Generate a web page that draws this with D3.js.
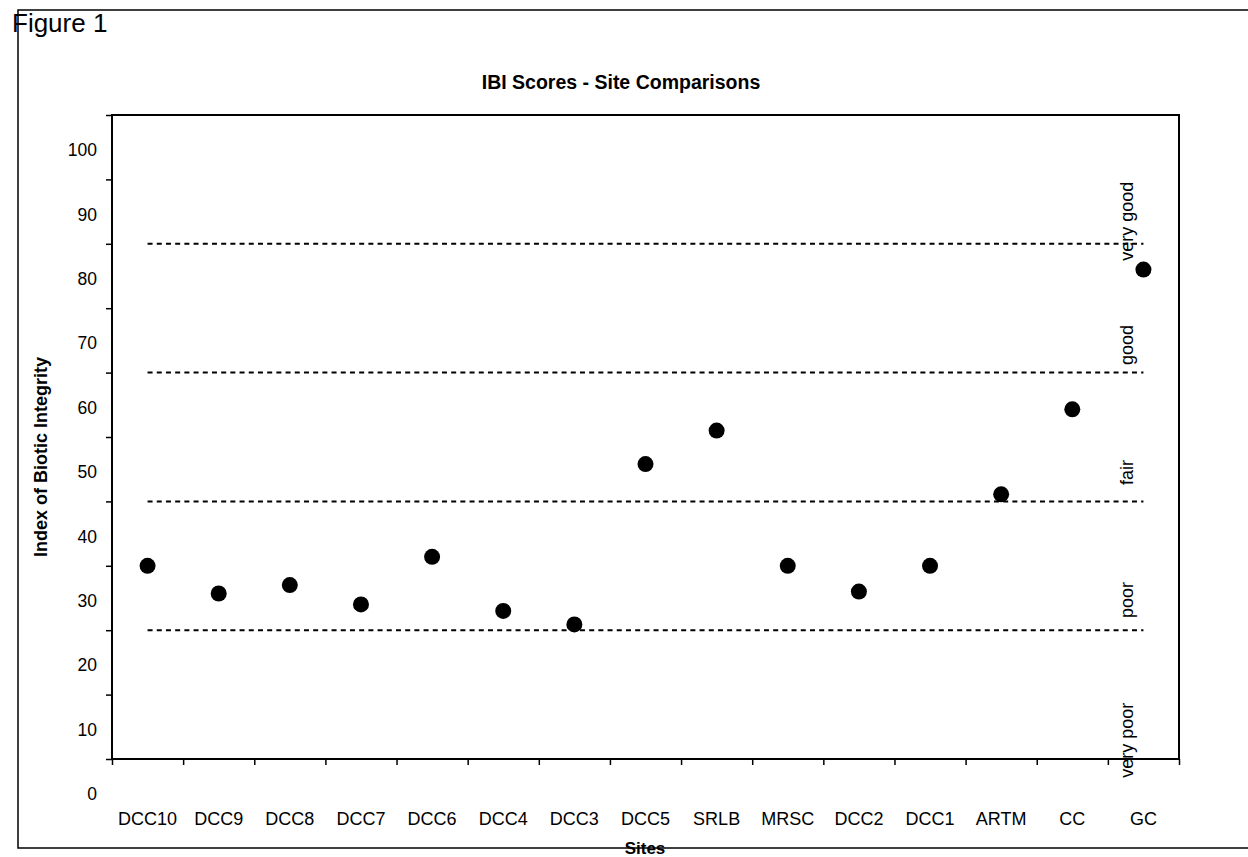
<!DOCTYPE html>
<html>
<head>
<meta charset="utf-8">
<script src="https://cdn.jsdelivr.net/npm/d3@7"></script>
<style>
  html, body { margin: 0; padding: 0; background: #fff; }
  svg { display: block; font-family: "Liberation Sans", Arial, sans-serif; }
</style>
</head>
<body>
<svg id="chart" width="1248" height="857"></svg>
<script>
// ---- data ----
const sites = ["DCC10","DCC9","DCC8","DCC7","DCC6","DCC4","DCC3","DCC5","SRLB","MRSC","DCC2","DCC1","ARTM","CC","GC"];
const ibiScores = [35, 30.7, 32, 29, 36.4, 28, 25.9, 50.8, 56, 35, 31, 35, 46.1, 59.3, 81];
const thresholds = [85, 65, 45, 25];
const bandNames = ["very good", "good", "fair", "poor", "very poor"];
const bandLabelValues = [88.5, 69.3, 49.5, 29.7, 7.9];
const yTickMarks = [5, 15, 25, 35, 45, 55, 65, 75, 85, 95, 105];
const yTickLabels = [0, 10, 20, 30, 40, 50, 60, 70, 80, 90, 100];

// ---- layout ----
const svg = d3.select("#chart");
const plot = { left: 112, right: 1179, top: 115, bottom: 759 };

const x = d3.scaleBand().domain(sites).range([plot.left, plot.right]).padding(0);
const xEdge = d3.scaleLinear().domain([0, sites.length]).range([plot.left, plot.right]);
const y = d3.scaleLinear().domain([5, 105]).range([plot.bottom, plot.top]);

// outer chart border
svg.append("rect")
  .attr("x", 18).attr("y", 10)
  .attr("width", 1260).attr("height", 838)
  .attr("fill", "none").attr("stroke", "#000").attr("stroke-width", 1.5);

// Figure label
svg.append("text")
  .attr("x", 12).attr("y", 32)
  .attr("font-size", 26).attr("fill", "#000")
  .text("Figure 1");

// title
svg.append("text")
  .attr("x", 621).attr("y", 89)
  .attr("text-anchor", "middle")
  .attr("font-size", 19.5).attr("font-weight", "bold")
  .text("IBI Scores - Site Comparisons");

// threshold dashed lines (from first to last category centre)
const cx = d => x(d) + x.bandwidth() / 2;
svg.append("g").selectAll("line")
  .data(thresholds).join("line")
  .attr("x1", cx(sites[0])).attr("x2", cx(sites[sites.length - 1]))
  .attr("y1", d => y(d)).attr("y2", d => y(d))
  .attr("stroke", "#000").attr("stroke-width", 2)
  .attr("stroke-dasharray", "5,4.2");

// band labels
svg.append("g").selectAll("text")
  .data(bandNames).join("text")
  .attr("transform", (d, i) => `translate(1133,${y(bandLabelValues[i])}) rotate(-90)`)
  .attr("text-anchor", "middle")
  .attr("font-size", 18)
  .text(d => d);

// plot frame
svg.append("rect")
  .attr("x", plot.left).attr("y", plot.top)
  .attr("width", plot.right - plot.left).attr("height", plot.bottom - plot.top)
  .attr("fill", "none").attr("stroke", "#000").attr("stroke-width", 2);

// y tick marks
const yAxis = svg.append("g")
  .attr("transform", `translate(${plot.left},0)`)
  .call(d3.axisLeft(y).tickValues(yTickMarks).tickSize(6).tickFormat(""));
yAxis.select(".domain").remove();
yAxis.selectAll("line").attr("stroke-width", 1.5);

// y tick labels (Excel-style, offset between tick marks)
svg.append("g").selectAll("text")
  .data(yTickLabels).join("text")
  .attr("x", 97).attr("y", d => y(d) + 9)
  .attr("text-anchor", "end")
  .attr("font-size", 17.5)
  .text(d => d);

// x tick marks at category boundaries
const xAxis = svg.append("g")
  .attr("transform", `translate(0,${plot.bottom})`)
  .call(d3.axisBottom(xEdge).tickValues(d3.range(sites.length + 1)).tickSize(6).tickFormat(""));
xAxis.select(".domain").remove();
xAxis.selectAll("line").attr("stroke-width", 1.5);

// x category labels
svg.append("g").selectAll("text")
  .data(sites).join("text")
  .attr("x", d => cx(d)).attr("y", 825)
  .attr("text-anchor", "middle")
  .attr("font-size", 18)
  .text(d => d);

// axis titles
svg.append("text")
  .attr("x", 645).attr("y", 854)
  .attr("text-anchor", "middle")
  .attr("font-size", 17).attr("font-weight", "bold")
  .text("Sites");

svg.append("text")
  .attr("transform", `translate(47,${(plot.top + plot.bottom) / 2 + 20}) rotate(-90)`)
  .attr("text-anchor", "middle")
  .attr("font-size", 18).attr("font-weight", "bold")
  .text("Index of Biotic Integrity");

// points
svg.append("g").selectAll("circle")
  .data(ibiScores).join("circle")
  .attr("cx", (d, i) => cx(sites[i]))
  .attr("cy", d => y(d))
  .attr("r", 8)
  .attr("fill", "#000");
</script>
</body>
</html>
